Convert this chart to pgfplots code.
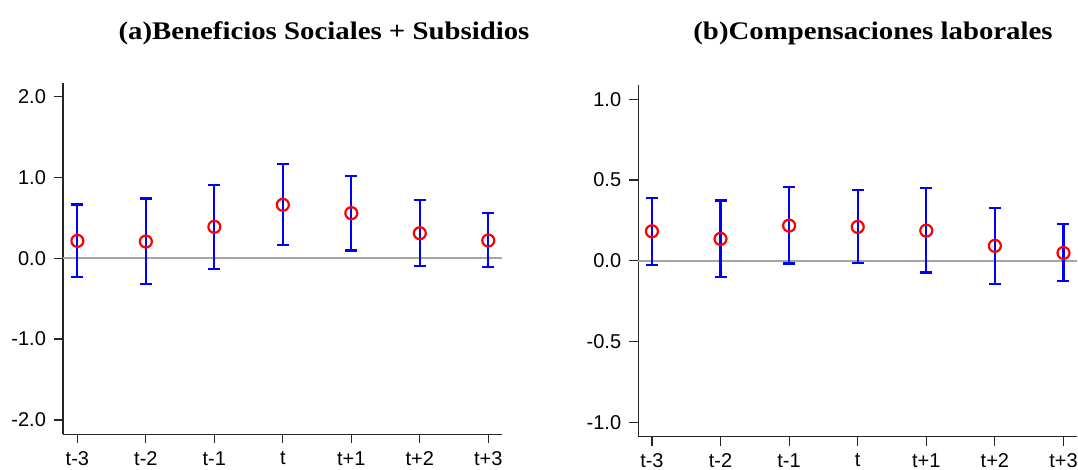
\documentclass[border=0pt]{standalone}
\usepackage{pgfplots}
\pgfplotsset{compat=1.18}
\usepackage{graphicx}
\usepackage{fontspec}
\setmainfont{Liberation Sans}
\newfontfamily\titlefont{Liberation Serif}
\definecolor{errblue}{RGB}{0,0,255}
\definecolor{ptred}{RGB}{255,0,0}
\definecolor{zerogray}{RGB}{165,165,165}

\pgfplotstableread{
x y ep em
0 0.214 0.450 0.445
1 0.206 0.532 0.524
2 0.388 0.519 0.524
3 0.660 0.507 0.495
4 0.557 0.462 0.462
5 0.309 0.409 0.404
6 0.219 0.338 0.330
}\tableA

\pgfplotstableread{
x y ep em
0 0.183 0.208 0.208
1 0.136 0.237 0.237
2 0.218 0.239 0.234
3 0.210 0.227 0.224
4 0.187 0.262 0.259
5 0.093 0.234 0.235
6 0.049 0.178 0.173
}\tableB

\pgfplotsset{
  panel/.style={
    scale only axis,
    width=219.5pt, height=175.8pt,
    axis lines*=left,
    axis line style={black!85, line width=0.6pt},
    tick style={black!85, line width=0.6pt},
    tick align=outside,
    major tick length=4.5pt,
    xtick={0,...,6},
    xticklabels={t-3,t-2,t-1,t,t+1,t+2,t+3},
    ticklabel style={font=\fontsize{10}{12}\selectfont, text=black},
    xticklabel style={yshift=-0.5pt},
    yticklabel style={xshift=-0.5pt},
    clip=false,
  },
  errs/.style={
    draw=none, mark=none, forget plot,
    error bars/.cd, y dir=both, y explicit,
    error bar style={errblue, line width=1.1pt},
    error mark options={rotate=90, mark size=3pt, errblue, line width=1.1pt},
  },
  pts/.style={
    only marks, mark=o, mark size=3pt,
    mark options={draw=ptred, fill=white, line width=1.1pt},
  },
}

\newcommand{\ttl}[1]{\scalebox{1}[0.88]{\titlefont\bfseries\fontsize{14.4}{16}\selectfont #1}}

\begin{document}
\begin{tikzpicture}
\clip (0,0) rectangle (539pt,-235pt);
\path[fill=white] (0,0) rectangle (539pt,-235pt);

\node[anchor=base, inner sep=0pt] at (162pt,-19.65pt) {\ttl{(a)Beneficios Sociales + Subsidios}};
\node[anchor=base, inner sep=0pt] at (436.5pt,-19.65pt) {\ttl{(b)Compensaciones laborales}};

\begin{axis}[panel, at={(31.5pt,-217.15pt)}, anchor=south west,
  xmin=-0.21, xmax=6.2, ymin=-2.177, ymax=2.17,
  ytick={-2,-1,0,1,2}, yticklabels={-2.0,-1.0,0.0,1.0,2.0}]
  \addplot[zerogray, line width=1pt, forget plot] coordinates {(-0.21,0) (6.2,0)};
  \addplot[errs] table[x=x, y=y, y error plus=ep, y error minus=em] {\tableA};
  \addplot[pts] table[x=x, y=y] {\tableA};
\end{axis}

\begin{axis}[panel, at={(319.1pt,-218.35pt)}, anchor=south west,
  xmin=-0.2, xmax=6.2, ymin=-1.087, ymax=1.087,
  ytick={-1,-0.5,0,0.5,1}, yticklabels={-1.0,-0.5,0.0,0.5,1.0}]
  \addplot[zerogray, line width=1pt, forget plot] coordinates {(-0.2,0) (6.2,0)};
  \addplot[errs] table[x=x, y=y, y error plus=ep, y error minus=em] {\tableB};
  \addplot[pts] table[x=x, y=y] {\tableB};
\end{axis}
\end{tikzpicture}
\end{document}
